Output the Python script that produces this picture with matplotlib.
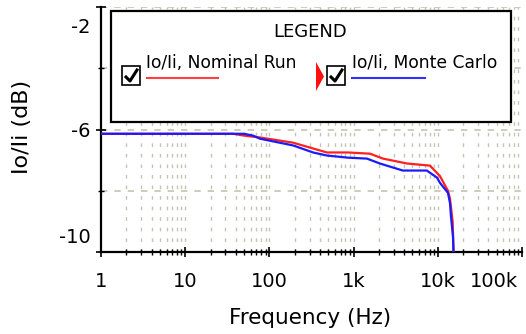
import numpy as np
import matplotlib
matplotlib.use("Agg")
import matplotlib.pyplot as plt
from matplotlib.patches import Rectangle, Polygon
from matplotlib.lines import Line2D
from matplotlib.ticker import FixedLocator, NullFormatter
import matplotlib.transforms as mtrans

# ---- data ----
freq_nominal = [1, 37, 50, 77, 191, 330, 482, 858, 1566, 2230, 4300, 8080, 10600, 13200, 13960, 15000, 15600]
db_nominal = [-6.14, -6.14, -6.20, -6.26, -6.43, -6.62, -6.75, -6.75, -6.79, -6.95, -7.11, -7.18, -7.52, -8.00, -8.26, -9.00, -10.5]
freq_mc = [1, 50, 64, 77, 191, 330, 482, 858, 1440, 2050, 3840, 7400, 9780, 10600, 13200, 13960, 14300, 15150, 15600]
db_mc = [-6.14, -6.14, -6.20, -6.30, -6.52, -6.75, -6.85, -6.92, -6.95, -7.11, -7.34, -7.34, -7.57, -7.74, -8.07, -8.40, -8.80, -9.50, -10.5]
xticks = [1, 10, 100, 1e3, 1e4, 1e5]
xticklabels = ["1", "10", "100", "1k", "10k", "100k"]
yticks = [-2, -6, -10]
yticklabels = ["-2", "-6", "-10"]
legend_labels = ["Io/Ii, Nominal Run", "Io/Ii, Monte Carlo"]

W, H = 526, 334
fig = plt.figure(figsize=(W / 100, H / 100), dpi=100)
plt.rcParams['font.family'] = ['DejaVu Sans']

def fx(px):
    return px / W

def fy(py):
    return 1 - py / H

ax = fig.add_axes([fx(101), fy(252), fx(522) - fx(101), fy(7) - fy(252)])
ax.set_xscale('log')
ax.set_xlim(1, 1e5)
ax.set_ylim(-10, -2)

gridc = '#c4c4b2'
vg = [m * 10 ** d for d in range(0, 5) for m in range(1, 10)][1:]
for v in vg:
    ax.axvline(v, color=gridc, lw=1, dashes=(2.6, 5), zorder=0)
for hv in [-2, -4, -6, -8]:
    ax.axhline(hv, color=gridc, lw=1.2, dashes=(3.8, 4.2), zorder=0.5)

ax.plot(freq_nominal, db_nominal, color='#ff2020', lw=1.6, zorder=3)
ax.plot(freq_mc, db_mc, color='#1a1aff', lw=1.6, zorder=4)

for s in ['top', 'right']:
    ax.spines[s].set_visible(False)
for s in ['left', 'bottom']:
    ax.spines[s].set_linewidth(1.6)
    ax.spines[s].set_color('black')

ax.xaxis.set_major_locator(FixedLocator(xticks))
ax.set_xticklabels(xticklabels, fontsize=14)
ax.xaxis.set_minor_locator(FixedLocator(vg))
ax.xaxis.set_minor_formatter(NullFormatter())
ax.set_yticks(yticks)
ax.set_yticklabels(yticklabels, fontsize=14)
ax.yaxis.set_minor_locator(FixedLocator([-4, -8]))
ax.tick_params(axis='both', which='major', direction='inout', length=7, width=1.2)
ax.tick_params(axis='both', which='minor', direction='inout', length=4, width=1)
ax.tick_params(axis='x', which='major', pad=11)
ax.tick_params(axis='y', which='major', pad=4)

for lab in ax.get_yticklabels():
    t = lab.get_text()
    if t == '-2':
        lab.set_transform(lab.get_transform() + mtrans.ScaledTranslation(0, -13 / 72, fig.dpi_scale_trans))
    elif t == '-10':
        lab.set_transform(lab.get_transform() + mtrans.ScaledTranslation(0, 12 / 72, fig.dpi_scale_trans))
for lab in ax.get_xticklabels():
    if lab.get_text() == '100k':
        lab.set_transform(lab.get_transform() + mtrans.ScaledTranslation(-20 / 72, 0, fig.dpi_scale_trans))

ax.set_xlabel("Frequency (Hz)", fontsize=15.5)
ax.xaxis.set_label_coords((310 - 101) / (522 - 101), (252 - 318) / (252 - 7))
ax.xaxis.label.set_va('center')
ax.set_ylabel("Io/Ii (dB)", fontsize=16)
ax.yaxis.set_label_coords((22 - 101) / (522 - 101), (252 - 127) / (252 - 7))
ax.yaxis.label.set_va('center')

# ---- legend box ----
fig.add_artist(Rectangle((fx(111), fy(122)), fx(511) - fx(111), fy(11) - fy(122),
                         transform=fig.transFigure, facecolor='white', edgecolor='black', lw=1.6, zorder=10))
fig.text(fx(310), fy(32), "LEGEND", ha='center', va='center', fontsize=13, zorder=11)

def checkbox(x0, y0, x1, y1):
    fig.add_artist(Rectangle((fx(x0), fy(y1)), fx(x1) - fx(x0), fy(y0) - fy(y1),
                             transform=fig.transFigure, facecolor='white', edgecolor='black', lw=1.2, zorder=11))
    fig.add_artist(Line2D([fx(x0 + 4), fx(x0 + 8), fx(x1 - 3)], [fy(y0 + 11), fy(y1 - 4), fy(y0 + 4)],
                          transform=fig.transFigure, color='black', lw=2.2, zorder=12))

checkbox(122, 66, 140, 85)
checkbox(327, 66, 345, 85)
fig.add_artist(Polygon([[fx(316), fy(62)], [fx(316), fy(91)], [fx(324), fy(76.5)]], closed=True,
                       transform=fig.transFigure, facecolor='#ff1010', edgecolor='none', zorder=12))

fig.text(fx(146), fy(63), legend_labels[0], ha='left', va='center', fontsize=12.3, zorder=11)
fig.add_artist(Line2D([fx(147), fx(218)], [fy(78.5), fy(78.5)], transform=fig.transFigure,
                      color='#ff4040', lw=1.5, zorder=11))
fig.text(fx(352), fy(63), legend_labels[1], ha='left', va='center', fontsize=12.3, zorder=11)
fig.add_artist(Line2D([fx(352), fx(425)], [fy(78.5), fy(78.5)], transform=fig.transFigure,
                      color='#3030ff', lw=1.5, zorder=11))

fig.savefig("out.png", dpi=100)
